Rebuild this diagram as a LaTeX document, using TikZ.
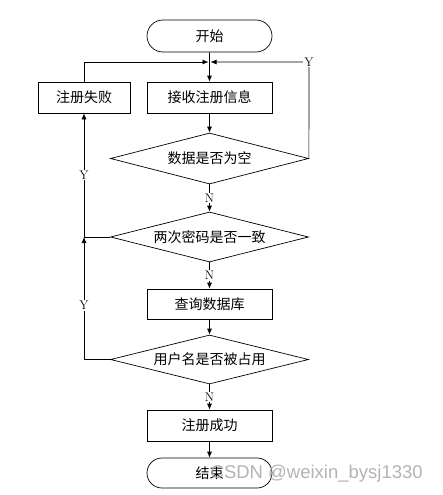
\documentclass[tikz,border=0pt]{standalone}
\usepackage{fontspec}
\newfontfamily\cjk{Noto Sans CJK SC}
\newfontfamily\wm{Liberation Sans}
\usetikzlibrary{arrows.meta,shapes.geometric,shapes.misc}
\begin{document}
\begin{tikzpicture}[x=1pt,y=-1pt,
  line width=0.7pt,
  every node/.style={font=\cjk\fontsize{14}{14}\selectfont},
  proc/.style={draw,rectangle,minimum width=125pt,minimum height=31pt,inner sep=0pt},
  term/.style={draw,rounded rectangle,minimum width=125pt,minimum height=32pt,inner sep=0pt},
  dec/.style={draw,diamond,aspect=3.9,minimum width=198pt,minimum height=51pt,inner sep=0pt},
  lbl/.style={fill=white,inner sep=1pt,font=\rmfamily\fontsize{12.5}{12.5}\selectfont},
  arr/.style={-{Latex[length=6pt,width=5pt]}}]
\useasboundingbox (0,0) rectangle (442,495);
\node[term] (start) at (209.5,36) {开始};
\coordinate (m) at (209.5,62);
\node[proc,minimum width=92pt] (fail) at (84,97.5) {注册失败};
\node[proc] (recv) at (209.5,97.5) {接收注册信息};
\node[dec] (d1) at (209.5,158.5) {数据是否为空};
\node[dec,minimum height=50pt] (d2) at (209.5,237) {两次密码是否一致};
\node[proc,minimum height=30pt] (query) at (209.5,304) {查询数据库};
\node[dec,minimum height=49pt] (d3) at (209.5,359.5) {用户名是否被占用};
\node[proc] (succ) at (209.5,425.5) {注册成功};
\node[term,minimum height=30pt] (end) at (209.5,473) {结束};
\coordinate (rc) at (309,62);
\coordinate (lj) at (84,237);
% main flow
\draw[arr] (start) -- (recv);
\draw[arr] (recv) -- (d1);
\draw[arr] (d1) -- node[lbl]{N} (d2);
\draw[arr] (d2) -- node[lbl]{N} (query);
\draw[arr] (query) -- (d3);
\draw[arr] (d3) -- node[lbl]{N} (succ);
\draw[arr] (succ) -- (end);
% loops
\draw[arr] (fail.north) |- ([xshift=-1pt]m);
\draw[arr] (d1.east) -- (rc) -- ([xshift=1pt]m);
\node[lbl] at (rc) {Y};
\draw[arr] (d3.west) -| node[lbl,pos=0.72]{Y} (lj);
\draw[arr] (d2.west) -| node[lbl,pos=0.75]{Y} (fail.south);
% watermark
\node[font=\wm\fontsize{18.5}{18.5}\selectfont,text=gray!70,opacity=0.85,anchor=west] at (207,474) {CSDN @weixin\_bysj1330};
\end{tikzpicture}
\end{document}
